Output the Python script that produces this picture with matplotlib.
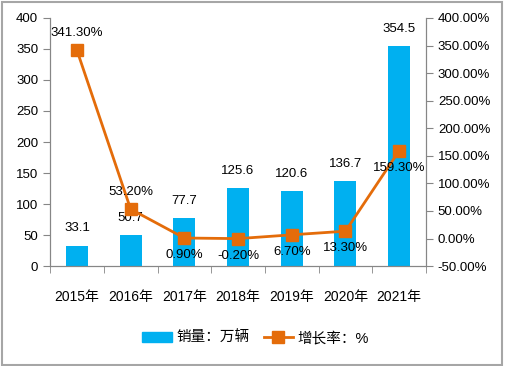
import matplotlib
matplotlib.use('Agg')
import matplotlib.pyplot as plt
from matplotlib.patches import Rectangle
from matplotlib.lines import Line2D
from matplotlib.ticker import FuncFormatter

plt.rcParams['font.family'] = ['Liberation Sans', 'Noto Sans CJK SC', 'DejaVu Sans']

# data
years = ['2015年', '2016年', '2017年', '2018年', '2019年', '2020年', '2021年']
sales = [33.1, 50.7, 77.7, 125.6, 120.6, 136.7, 354.5]
growth = [341.3, 53.2, 0.9, -0.2, 6.7, 13.3, 159.3]
growth_labels = ['341.30%', '53.20%', '0.90%', '-0.20%', '6.70%', '13.30%', '159.30%']

bar_color = '#00B0F0'
line_color = '#E46C0A'
axis_color = '#868686'

fig = plt.figure(figsize=(5.06, 3.66), dpi=100)
ax = fig.add_axes([0.099, 0.273, 0.743, 0.678])
ax2 = ax.twinx()

x = list(range(len(years)))
ax.bar(x, sales, width=0.41, color=bar_color, zorder=2)
for xi, v in zip(x, sales):
    ax.annotate(f'{v}', (xi, v), xytext=(0, 8), textcoords='offset points',
                ha='center', va='bottom', fontsize=9.5)

ax.set_xlim(-0.5, len(years) - 0.5)
ax.set_ylim(0, 400)
ax.set_yticks(range(0, 401, 50))
ax.set_xticks(x)
ax.set_xticklabels(years, fontsize=10)
ax.set_xticks([i + 0.5 for i in range(-1, len(years))], minor=True)
ax.tick_params(axis='x', which='major', length=0, pad=17)
ax.tick_params(axis='x', which='minor', length=5, color=axis_color)
ax.tick_params(axis='y', length=5, color=axis_color, labelsize=9.5)

ax2.plot(x, growth, color=line_color, lw=2, marker='s', ms=8, zorder=3)
ax2.set_ylim(-50, 400)
ax2.set_yticks(range(-50, 401, 50))
ax2.yaxis.set_major_formatter(FuncFormatter(lambda v, p: f'{v:.2f}%'))
ax2.tick_params(axis='y', length=5, color=axis_color, labelsize=9.5)

for i, (xi, g, lab) in enumerate(zip(x, growth, growth_labels)):
    if i < 2:
        ax2.annotate(lab, (xi, g), xytext=(0, 8), textcoords='offset points',
                     ha='center', va='bottom', fontsize=9.5)
    else:
        ax2.annotate(lab, (xi, g), xytext=(0, -8), textcoords='offset points',
                     ha='center', va='top', fontsize=9.5)

for a in (ax, ax2):
    a.spines['top'].set_visible(False)
    for s in ('left', 'right', 'bottom'):
        a.spines[s].set_color(axis_color)

handles = [Rectangle((0, 0), 1, 1, color=bar_color),
           Line2D([], [], color=line_color, lw=2, marker='s', ms=8)]
fig.legend(handles, ['销量：万辆', '增长率：%'], loc='center', ncol=2,
           bbox_to_anchor=(0.505, 0.076), frameon=False, fontsize=10.5,
           handlelength=2.0, handletextpad=0.3, columnspacing=1.0)

fig.patches.append(Rectangle((0.003, 0.004), 0.99, 0.99, transform=fig.transFigure,
                             fill=False, edgecolor='#A6A6A6', lw=1.5))

fig.savefig('out.png', dpi=100)
